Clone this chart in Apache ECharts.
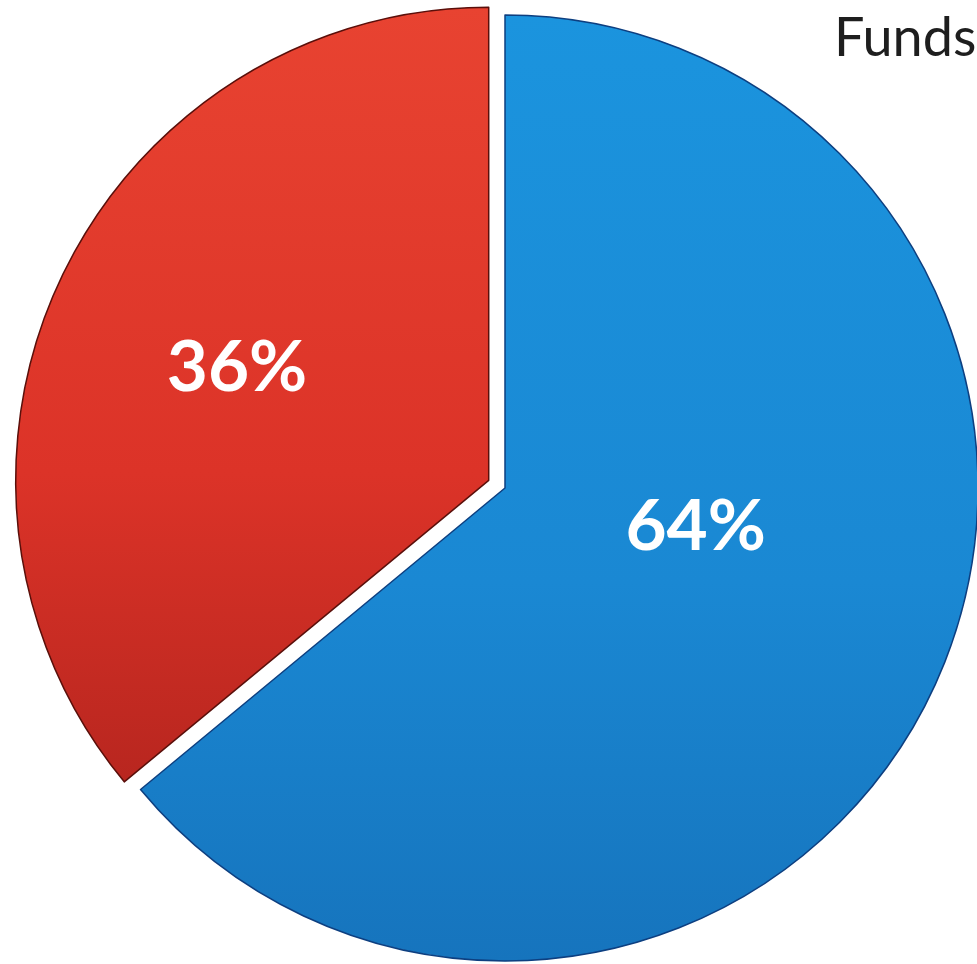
<!DOCTYPE html>
<html>
<head>
<meta charset="utf-8">
<script src="https://cdn.jsdelivr.net/npm/echarts@6/dist/echarts.min.js"></script>
<style>html,body{margin:0;padding:0;background:#fff}#c{width:977px;height:964px}</style>
</head>
<body>
<div id="c"></div>
<script>
const categories = ['Blue', 'Red'];
const values = [64, 36];
const titleText = 'Funds';

const chart = echarts.init(document.getElementById('c'), null, {renderer: 'canvas'});
const styles = [
  {
    color: new echarts.graphic.LinearGradient(0, 0, 0, 1, [
      {offset: 0, color: '#1b94de'}, {offset: 0.6, color: '#1a88d3'}, {offset: 1, color: '#1674bd'}
    ]),
    borderColor: '#0d3f80', labelShift: [-26, -63]
  },
  {
    color: new echarts.graphic.LinearGradient(0, 0, 0, 1, [
      {offset: 0, color: '#e84331'}, {offset: 0.6, color: '#dc3328'}, {offset: 1, color: '#b8261f'}
    ]),
    borderColor: '#5a0f0a', labelShift: [-35, -10]
  }
];
chart.setOption({
  animation: false,
  title: {
    text: titleText, left: 829, top: 7,
    textStyle: {fontFamily: 'Lato', fontWeight: 'normal', fontSize: 54, color: '#1e1e1e'}
  },
  series: [{
    type: 'pie',
    center: [505, 488],
    radius: [0, 473],
    startAngle: 90,
    clockwise: true,
    selectedMode: 'multiple',
    selectedOffset: 18,
    avoidLabelOverlap: false,
    emphasis: {disabled: true},
    label: {
      show: true, position: 'inside',
      formatter: p => p.value + '%',
      color: '#ffffff', fontFamily: 'Lato', fontWeight: 'bold', fontSize: 71
    },
    labelLayout: p => ({dx: styles[p.dataIndex].labelShift[0], dy: styles[p.dataIndex].labelShift[1]}),
    labelLine: {show: false},
    data: categories.map((c, i) => ({
      name: c, value: values[i], selected: i === 1,
      itemStyle: {color: styles[i].color, borderColor: styles[i].borderColor, borderWidth: 1.5}
    }))
  }]
});
</script>
</body>
</html>
